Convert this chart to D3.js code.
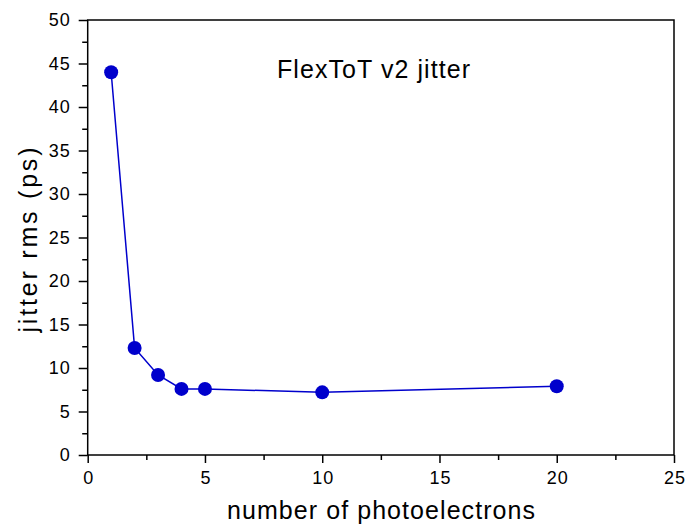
<!DOCTYPE html>
<html><head><meta charset="utf-8">
<script src="https://cdn.jsdelivr.net/npm/d3@7"></script>
<style>body{margin:0;background:#fff}svg{display:block}text{font-family:"Liberation Sans",Arial,sans-serif}</style>
</head><body><svg id="c" width="687" height="524"></svg>
<script>
const xValues = [1, 2, 3, 4, 5, 10, 20];
const jitter = [44.0, 12.3, 9.2, 7.6, 7.6, 7.2, 7.9];
const xTicks = [0, 5, 10, 15, 20, 25];
const yTicks = [0, 5, 10, 15, 20, 25, 30, 35, 40, 45, 50];
const title = "FlexToT v2 jitter";

const svg = d3.select("#c");
const L = 87.7, R = 674, T = 20, B = 455;
const x = d3.scaleLinear().domain([0, 25]).range([L, R]);
const y = d3.scaleLinear().domain([0, 50]).range([B, T]);

// frame
svg.append("rect").attr("x", L).attr("y", T).attr("width", R - L).attr("height", B - T)
  .attr("fill", "none").attr("stroke", "#000").attr("stroke-width", 1.5);

// x axis
const xa = svg.append("g").attr("transform", `translate(0,${B})`)
  .call(d3.axisBottom(x).tickValues(xTicks).tickSize(8).tickPadding(8).tickFormat(d3.format("d")));
const xm = svg.append("g").attr("transform", `translate(0,${B})`)
  .call(d3.axisBottom(x).tickValues(d3.range(2.5, 25, 5)).tickSize(5).tickFormat(""));
// y axis
const ya = svg.append("g").attr("transform", `translate(${L},0)`)
  .call(d3.axisLeft(y).tickValues(yTicks).tickSize(9).tickPadding(8).tickFormat(d3.format("d")));
const ym = svg.append("g").attr("transform", `translate(${L},0)`)
  .call(d3.axisLeft(y).tickValues(d3.range(2.5, 50, 5)).tickSize(5.5).tickFormat(""));
[xa, xm, ya, ym].forEach(g => {
  g.select(".domain").remove();
  g.selectAll("line").attr("stroke", "#000").attr("stroke-width", 1.5);
  g.selectAll("text").attr("font-size", 18).attr("fill", "#000").attr("letter-spacing", 1)
    .attr("font-family", "'Liberation Sans',Arial,sans-serif");
});
xa.selectAll("text").attr("dx", "0.5");

const pts = xValues.map((v, i) => [v, jitter[i]]);
svg.append("path").datum(pts)
  .attr("d", d3.line().x(d => x(d[0])).y(d => y(d[1])))
  .attr("fill", "none").attr("stroke", "#0000CC").attr("stroke-width", 1.5);
svg.selectAll("circle.p").data(pts).join("circle")
  .attr("cx", d => x(d[0])).attr("cy", d => y(d[1])).attr("r", 7)
  .attr("fill", "#0000CC");

svg.append("text").attr("x", 373.5).attr("y", 78).attr("text-anchor", "middle")
  .attr("font-size", 25).attr("textLength", 193).attr("lengthAdjust", "spacing").text(title);
svg.append("text").attr("x", 381).attr("y", 519).attr("text-anchor", "middle")
  .attr("font-size", 25).attr("textLength", 308).attr("lengthAdjust", "spacing").text("number of photoelectrons");
svg.append("text").attr("transform", "translate(37,240) rotate(-90)").attr("text-anchor", "middle")
  .attr("font-size", 25).attr("textLength", 185).attr("lengthAdjust", "spacing").text("jitter rms (ps)");
</script></body></html>
